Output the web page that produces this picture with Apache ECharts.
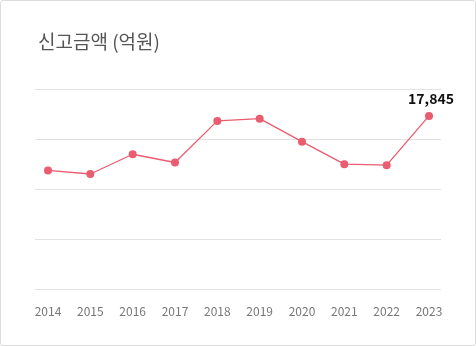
<!DOCTYPE html>
<html>
<head>
<meta charset="utf-8">
<script src="https://cdn.jsdelivr.net/npm/echarts@6/dist/echarts.min.js"></script>
<style>
  html, body { margin: 0; padding: 0; background: #fff; }
  #chart {
    width: 476px; height: 346px; box-sizing: border-box;
    border: 1px solid #dcdcdc; border-radius: 3px; background: #fff;
  }
</style>
</head>
<body>
<div id="chart"></div>
<script>
// 연도별 신고금액 (단위: 억원)
const years = ['2014', '2015', '2016', '2017', '2018', '2019', '2020', '2021', '2022', '2023'];
const amounts = [13490, 13200, 14780, 14120, 17450, 17630, 15790, 13990, 13910, 17845];
const titleText = '신고금액 (억원)';

const font = '"Noto Sans CJK KR", "Noto Sans", sans-serif';
const lineColor = '#ea5c6f';
const lastIndex = amounts.length - 1;

const chart = echarts.init(document.getElementById('chart'), null, { renderer: 'canvas' });

chart.setOption({
  animation: false,
  title: {
    text: titleText,
    left: 32, top: 26,
    textStyle: { fontFamily: font, fontSize: 19, fontWeight: 'normal', color: '#555' }
  },
  grid: [
    // plot area for the line
    { left: 47, right: 46, top: 88, bottom: 56 },
    // wider area that only carries the horizontal guide lines
    { left: 34, right: 34, top: 88, bottom: 56 }
  ],
  xAxis: [
    {
      type: 'category', gridIndex: 0, data: years, boundaryGap: false,
      axisLine: { show: false }, axisTick: { show: false },
      axisLabel: { color: '#777', fontSize: 12, fontFamily: font, margin: 16 }
    },
    { type: 'value', gridIndex: 1, show: false, min: 0, max: 1 }
  ],
  yAxis: [
    {
      type: 'value', gridIndex: 0, min: 4000, max: 20000, interval: 4000,
      axisLabel: { show: false }, axisLine: { show: false }, axisTick: { show: false },
      splitLine: { show: false }
    },
    {
      type: 'value', gridIndex: 1, min: 4000, max: 20000, interval: 4000,
      axisLabel: { show: false }, axisLine: { show: false }, axisTick: { show: false },
      splitLine: { show: true, lineStyle: { color: '#e2e2e2', width: 1 } }
    }
  ],
  series: [{
    type: 'line',
    xAxisIndex: 0, yAxisIndex: 0,
    data: amounts.map((v, i) => ({
      value: v,
      label: i === lastIndex ? {
        show: true, position: 'top', distance: 6, offset: [2, 0],
        formatter: p => p.value.toLocaleString('en-US'),
        color: '#111', fontSize: 14, fontWeight: 'bold', fontFamily: font
      } : { show: false }
    })),
    symbol: 'circle', symbolSize: 8,
    lineStyle: { color: lineColor, width: 1.3 },
    itemStyle: { color: lineColor, borderWidth: 0 }
  }]
});
</script>
</body>
</html>
